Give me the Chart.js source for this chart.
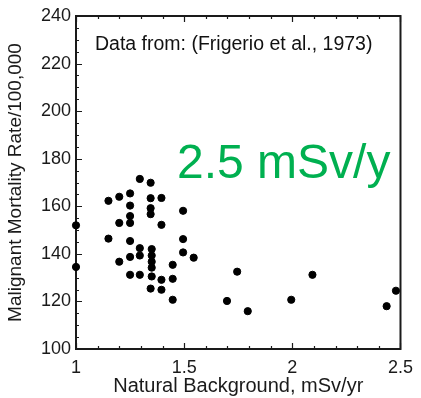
<!DOCTYPE html>
<html>
<head>
<meta charset="utf-8">
<script src="https://cdn.jsdelivr.net/npm/chart.js@4"></script>
<style>
  html, body { margin: 0; padding: 0; background: #fff; }
  #wrap { width: 421px; height: 398px; }
</style>
</head>
<body>
<div id="wrap"><canvas id="chart"></canvas></div>
<script>
// natural background (mSv/yr) vs malignant mortality rate per 100,000
const background = [
    1.0, 1.0, 1.15, 1.15, 1.2, 1.2, 1.2,
    1.25, 1.25, 1.25, 1.25, 1.25, 1.25, 1.25,
    1.295, 1.295, 1.295, 1.295,
    1.345, 1.345, 1.345, 1.345, 1.35, 1.35, 1.35, 1.35, 1.35, 1.345,
    1.395, 1.395, 1.395, 1.395,
    1.447, 1.447, 1.447,
    1.495, 1.495, 1.495, 1.544,
    1.745, 1.698, 1.794, 1.995, 2.093, 2.436, 2.479
];
const mortality = [
    152, 134.5, 162.3, 146.4, 164, 153, 136.7,
    165.4, 160.3, 155.9, 153, 145.4, 138.7, 131.2,
    171.5, 142.4, 139.3, 131.2,
    169.9, 163.4, 159.2, 156.7, 142.0, 139.3, 136.7, 134.2, 130.5, 125.4,
    163.5, 152.2, 129.1, 124.9,
    135.4, 129.5, 120.7,
    158.1, 146.2, 140.6, 138.4,
    132.5, 120.2, 115.9, 120.7, 131.2, 118.0, 124.5
];
const xTicks = [1, 1.5, 2, 2.5];
const yTicks = [100, 120, 140, 160, 180, 200, 220, 240];
const sourceNote = "Data from: (Frigerio et al., 1973)";
const doseNote = "2.5 mSv/y";

const points = background.map((x, i) => ({ x: x, y: mortality[i] }));
const fontFamily = "'Liberation Sans', Arial, sans-serif";
const ink = "#1a1a1a";

// frame on all four sides + inward tick marks (bottom, top, left)
const frameTicks = {
    id: "frameTicks",
    beforeDatasetsDraw(chart) {
        const ctx = chart.ctx;
        const a = chart.chartArea;
        const xs = chart.scales.x, ys = chart.scales.y;
        ctx.save();
        ctx.strokeStyle = ink;
        ctx.lineWidth = 1.2;
        ctx.beginPath();
        for (let v = 1; v <= 2.5001; v += 0.1) {
            const px = Math.round(xs.getPixelForValue(v)) + 0.5;
            const major = Math.abs(v * 2 - Math.round(v * 2)) < 1e-6;
            const len = major ? 6 : 3;
            ctx.moveTo(px, a.bottom); ctx.lineTo(px, a.bottom - len);
            ctx.moveTo(px, a.top); ctx.lineTo(px, a.top + len);
        }
        for (let v = 100; v <= 240; v += 5) {
            const py = Math.round(ys.getPixelForValue(v)) + 0.5;
            const len = v % 20 === 0 ? 6 : 3;
            ctx.moveTo(a.left, py); ctx.lineTo(a.left + len, py);
        }
        ctx.stroke();
        ctx.lineWidth = 2;
        ctx.strokeRect(a.left, a.top, a.right - a.left, a.bottom - a.top);

        ctx.fillStyle = "#111";
        ctx.font = "19.5px " + fontFamily;
        ctx.textBaseline = "middle";
        ctx.textAlign = "left";
        ctx.fillText(sourceNote, a.left + 19, a.top + 29);

        ctx.fillStyle = "#00B050";
        ctx.font = "48px " + fontFamily;
        ctx.fillText(doseNote, a.left + 101, a.top + 149);
        ctx.restore();
    }
};

new Chart(document.getElementById("chart"), {
    type: "scatter",
    data: {
        datasets: [{
            data: points,
            backgroundColor: "#000",
            borderColor: "#000",
            pointRadius: 3.6,
            pointHoverRadius: 3.6,
            clip: false
        }]
    },
    options: {
        responsive: true,
        maintainAspectRatio: false,
        animation: false,
        layout: { padding: { top: 16, right: 17, left: 0, bottom: 0 } },
        plugins: {
            legend: { display: false },
            tooltip: { enabled: false }
        },
        scales: {
            x: {
                type: "linear",
                min: 1,
                max: 2.5,
                afterFit: s => { s.height = 49; },
                afterBuildTicks: s => { s.ticks = xTicks.map(v => ({ value: v })); },
                grid: { display: false, drawTicks: false },
                border: { display: false },
                ticks: {
                    color: ink,
                    padding: 8,
                    font: { family: fontFamily, size: 18 },
                    callback: v => String(v)
                },
                title: {
                    display: true,
                    text: "Natural Background, mSv/yr",
                    color: ink,
                    font: { family: fontFamily, size: 20 },
                    padding: { top: 0, bottom: 0 }
                }
            },
            y: {
                type: "linear",
                min: 100,
                max: 240,
                afterFit: s => { s.width = 76; },
                afterBuildTicks: s => { s.ticks = yTicks.map(v => ({ value: v })); },
                grid: { display: false, drawTicks: false },
                border: { display: false },
                ticks: {
                    color: ink,
                    padding: 5,
                    font: { family: fontFamily, size: 18 },
                    callback: v => String(v)
                },
                title: {
                    display: true,
                    text: "Malignant Mortality Rate/100,000",
                    color: ink,
                    font: { family: fontFamily, size: 19 },
                    padding: { top: 4, bottom: 0 }
                }
            }
        }
    },
    plugins: [frameTicks]
});
</script>
</body>
</html>
